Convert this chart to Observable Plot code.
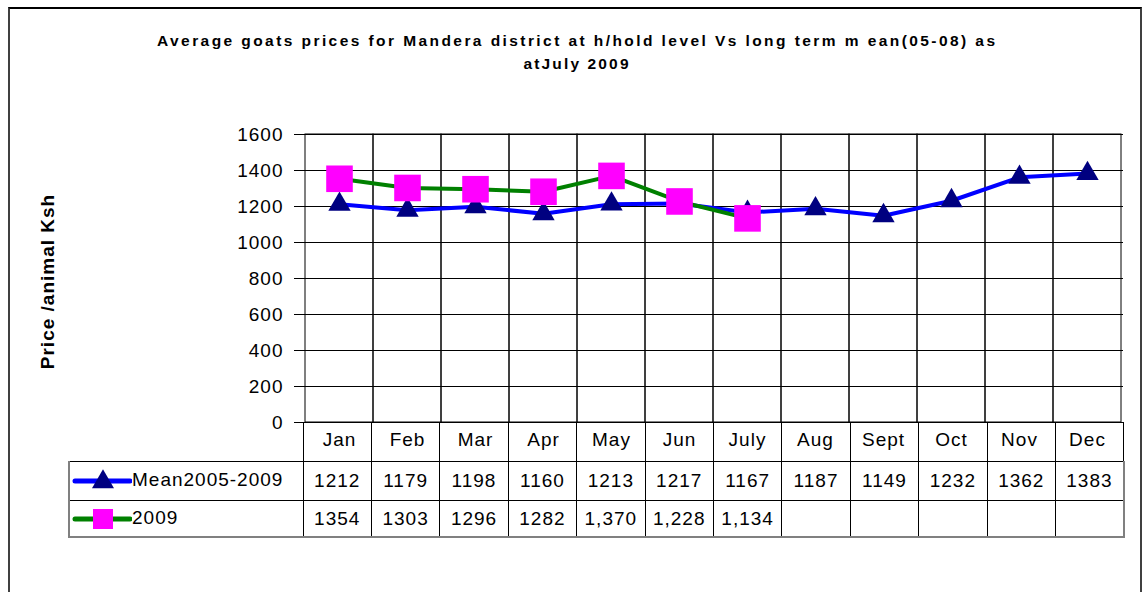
<!DOCTYPE html>
<html><head><meta charset="utf-8">
<script src="https://cdn.jsdelivr.net/npm/d3@7"></script>
<script src="https://cdn.jsdelivr.net/npm/@observablehq/plot@0.6"></script>
<style>
body{margin:0;background:#fff;font-family:"Liberation Sans",Arial,sans-serif;}
#wrap{position:relative;width:1145px;height:592px;overflow:hidden;background:#fff;}
#frame{position:absolute;left:8px;top:7px;width:1134px;height:620px;box-sizing:border-box;border-left:2px solid #404040;border-right:2px solid #404040;border-top:2px solid #000;}
#title{position:absolute;left:0;top:0;}
#chart{position:absolute;left:0;top:0;}
#tbl{position:absolute;left:68px;top:422px;border-collapse:collapse;table-layout:fixed;font-size:19px;letter-spacing:1px;}
#tbl td{border:1px solid #000;padding:0;text-align:center;white-space:nowrap;overflow:hidden;}
#tbl tr.hdr td{height:38px;}
#tbl tr.hdr td.blank{border:none;border-right:1px solid #000;}
#tbl tr.r1 td{height:38px;}
#tbl tr.r2 td{height:35px;}
#tbl td.lab{text-align:left;}
#tbl tr.r1 td:first-child, #tbl tr.r2 td:first-child{border-left:2px solid #808080;}
#tbl tr.r1 td:last-child, #tbl tr.r2 td:last-child{border-right:2px solid #808080;}
#tbl tr.r2 td{border-bottom:2px solid #808080;}
.lab svg{vertical-align:middle;}
</style>
</head><body>
<div id="wrap">
  <div id="frame"></div>
  <svg id="title" width="1145" height="90"></svg>
  <div id="chart"></div>
  <table id="tbl"></table>
</div>
<script>
const titleLines = ["Average goats prices for Mandera district at h/hold level Vs long term m ean(05-08) as", "atJuly 2009"];
const yLabel = "Price /animal Ksh";
const months = ["Jan","Feb","Mar","Apr","May","Jun","July","Aug","Sept","Oct","Nov","Dec"];
const seriesNames = ["Mean2005-2009", "2009"];
const meanValues = [1212,1179,1198,1160,1213,1217,1167,1187,1149,1232,1362,1383];
const values2009 = [1354,1303,1296,1282,1370,1228,1134];
const labels2009 = ["1354","1303","1296","1282","1,370","1,228","1,134"];
const yTicks = [0,200,400,600,800,1000,1200,1400,1600];

const blue = "#0000ff", navy = "#000080", green = "#008000", magenta = "#ff00ff";

// Title
const ts = d3.select("#title");
ts.append("text").attr("x", 576).attr("y", 46).attr("text-anchor","middle")
  .attr("font-family","Liberation Sans, Arial, sans-serif").attr("font-weight","bold").attr("font-size",15.5)
  .attr("textLength", 838).attr("lengthAdjust","spacing").text(titleLines[0]);
ts.append("text").attr("x", 576).attr("y", 69).attr("text-anchor","middle")
  .attr("font-family","Liberation Sans, Arial, sans-serif").attr("font-weight","bold").attr("font-size",15.5)
  .attr("textLength", 105).attr("lengthAdjust","spacing").text(titleLines[1]);

const meanData = months.map((m, i) => ({month: m, value: meanValues[i]}));
const data2009 = values2009.map((v, i) => ({month: months[i], value: v}));

const plot = Plot.plot({
  width: 1145, height: 592,
  marginLeft: 302, marginRight: 22, marginTop: 134, marginBottom: 170,
  style: {fontFamily: "Liberation Sans, Arial, sans-serif", fontSize: "19px", color: "#000", background: "transparent", overflow: "visible", letterSpacing: "1px"},
  x: {domain: months, padding: 0, axis: null},
  y: {domain: [0, 1600], axis: null},
  marks: [
    Plot.gridY(yTicks, {stroke: "#000", strokeOpacity: 1}),
    Plot.barY(months, {x: d => d, y1: 0, y2: 1600, fill: "none", stroke: "#000", strokeWidth: 1, inset: 0}),
    Plot.axisY(yTicks, {tickSize: 8, tickPadding: 11, label: null, stroke: "#000", fontSize: 19, tickFormat: d => String(d)}),
    Plot.text(months, {x: d => d, frameAnchor: "bottom", dy: 23, fontSize: 19}),
    Plot.text([yLabel], {frameAnchor: "left", textAnchor: "middle", dx: -255, dy: 3, rotate: -90, fontWeight: "bold", fontSize: 19}),
    Plot.line(meanData, {x: "month", y: "value", stroke: blue, strokeWidth: 4}),
    Plot.line(data2009, {x: "month", y: "value", stroke: green, strokeWidth: 4}),
    Plot.dot(meanData, {x: "month", y: "value", symbol: "triangle", r: 8.3, fill: navy, stroke: "none"}),
    Plot.dot(data2009, {x: "month", y: "value", symbol: "square", r: 15, fill: magenta, stroke: "none"})
  ]
});
document.getElementById("chart").appendChild(plot);

// Data table
const bw = (1123 - 302) / months.length;
const tbl = d3.select("#tbl");
const cg = tbl.append("colgroup");
cg.append("col").style("width", "234px");
months.forEach(() => cg.append("col").style("width", bw + "px"));
tbl.style("width", (234 + bw * months.length) + "px");

const hdr = tbl.append("tr").attr("class", "hdr");
hdr.append("td").attr("class", "blank");
months.forEach(() => hdr.append("td"));

function legendCell(tr, name, kind) {
  const td = tr.append("td").attr("class", "lab");
  const svg = td.append("svg").attr("width", 62).attr("height", 26);
  svg.append("line").attr("x1", 5).attr("x2", 60).attr("y1", 13).attr("y2", 13)
    .attr("stroke", kind === "tri" ? blue : green).attr("stroke-width", 5).attr("stroke-linecap", "round");
  if (kind === "tri") {
    svg.append("path").attr("d", d3.symbol(d3.symbolTriangle, 210)()).attr("transform", "translate(33,14)").attr("fill", navy);
  } else {
    svg.append("rect").attr("x", 23).attr("y", 3).attr("width", 20).attr("height", 20).attr("fill", magenta);
  }
  td.append("span").text(name);
}
const r1 = tbl.append("tr").attr("class", "r1");
legendCell(r1, seriesNames[0], "tri");
meanValues.forEach(v => r1.append("td").text(String(v)));
const r2 = tbl.append("tr").attr("class", "r2");
legendCell(r2, seriesNames[1], "sq");
months.forEach((m, i) => r2.append("td").text(i < labels2009.length ? labels2009[i] : ""));
</script>
</body></html>
